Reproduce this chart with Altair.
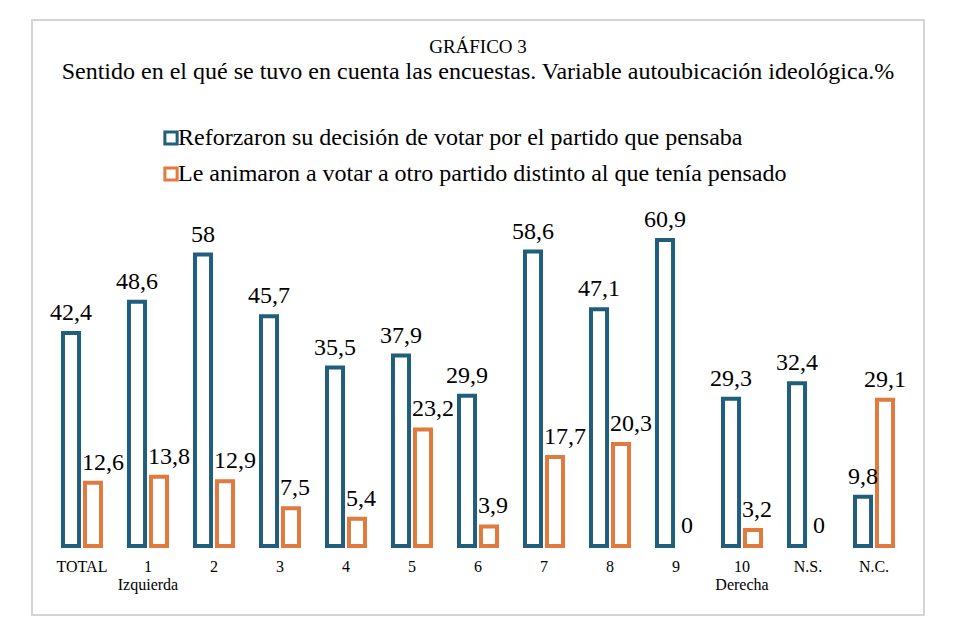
import altair as alt
import pandas as pd

categories = ["TOTAL", "1", "2", "3", "4", "5", "6", "7", "8", "9", "10", "N.S.", "N.C."]
reforzaron = [42.4, 48.6, 58, 45.7, 35.5, 37.9, 29.9, 58.6, 47.1, 60.9, 29.3, 32.4, 9.8]
animaron = [12.6, 13.8, 12.9, 7.5, 5.4, 23.2, 3.9, 17.7, 20.3, 0, 3.2, 0, 29.1]
series = [
    "Reforzaron su decisión de votar por el partido que pensaba",
    "Le animaron a votar a otro partido distinto al que tenía pensado",
]
colors = ["#215E7C", "#E07A3F"]

rows = []
for i, c in enumerate(categories):
    for k, (s, vals) in enumerate(zip(series, [reforzaron, animaron])):
        v = vals[i]
        lab = f"{v:g}".replace(".", ",")
        # Second-series labels that would collide with the taller first-series bar
        # are pushed to the right, as in the original chart.
        shift = bool(k == 1 and reforzaron[i] > v and len(lab) >= 3)
        rows.append({"cat": c, "serie": s, "value": v, "label": lab, "shift": shift})
df = pd.DataFrame(rows)

FONT = "Liberation Serif"

x = alt.X("cat:N", sort=categories, title=None,
          scale=alt.Scale(paddingInner=0.333, paddingOuter=0.424),
          axis=alt.Axis(labelAngle=0, ticks=False, domain=False, grid=False,
                        labelPadding=0, offset=-57, labelFontSize=16,
                        labelFont=FONT, labelColor="black", labelLineHeight=18,
                        labelExpr="datum.label == '1' ? ['1', 'Izquierda'] : datum.label == '10' ? ['10', 'Derecha'] : datum.label"))
xo = alt.XOffset("serie:N", sort=series,
                 scale=alt.Scale(paddingInner=0.27, paddingOuter=0.136))
y = alt.Y("value:Q", title=None, axis=None,
          scale=alt.Scale(domain=[-13.73, 104.68], nice=False, zero=False))

bars = alt.Chart(df).mark_bar(fill="white", strokeWidth=4).encode(
    x=x, xOffset=xo, y=y, y2=alt.datum(0),
    stroke=alt.Stroke("serie:N", sort=series,
                      scale=alt.Scale(domain=series, range=colors),
                      legend=alt.Legend(title=None, orient="none", legendX=127, legendY=106,
                                        direction="vertical", symbolType="square",
                                        symbolSize=150, symbolStrokeWidth=3,
                                        symbolFillColor="white", labelFont=FONT,
                                        labelFontSize=24, labelColor="black",
                                        labelLimit=800, rowPadding=10,
                                        labelOffset={"expr": "-5"},
                                        padding=0)),
    strokeOpacity=alt.condition(alt.datum.value > 0, alt.value(1), alt.value(0)),
)

labels_center = alt.Chart(df).transform_filter("!datum.shift").mark_text(
    font=FONT, fontSize=24, color="black", baseline="alphabetic", dy=-13).encode(
    x=x, xOffset=xo, y=y, text="label:N",
)

labels_shift = alt.Chart(df).transform_filter("datum.shift").mark_text(
    font=FONT, fontSize=24, color="black", baseline="alphabetic", align="left",
    dx=-11, dy=-13).encode(
    x=x, xOffset=xo, y=y, text="label:N",
)

chart = alt.layer(bars, labels_center, labels_shift).properties(
    width=892, height=595,
    title=alt.TitleParams(text="GRÁFICO 3",
                          subtitle="Sentido en el qué se tuvo en cuenta las encuestas. Variable autoubicación ideológica.%",
                          font=FONT, fontSize=19, fontWeight="normal", color="black",
                          subtitleFont=FONT, subtitleFontSize=24, subtitleColor="black",
                          subtitlePadding=3, anchor="middle", offset=-64),
    padding={"left": 24, "top": 12, "right": 10, "bottom": 10},
    autosize=alt.AutoSizeParams(type="none"),
).configure(background="white").configure_view(stroke="#d4d4d4", strokeWidth=2)

chart.save("out.html", embed_options={"renderer": "svg", "actions": False})
